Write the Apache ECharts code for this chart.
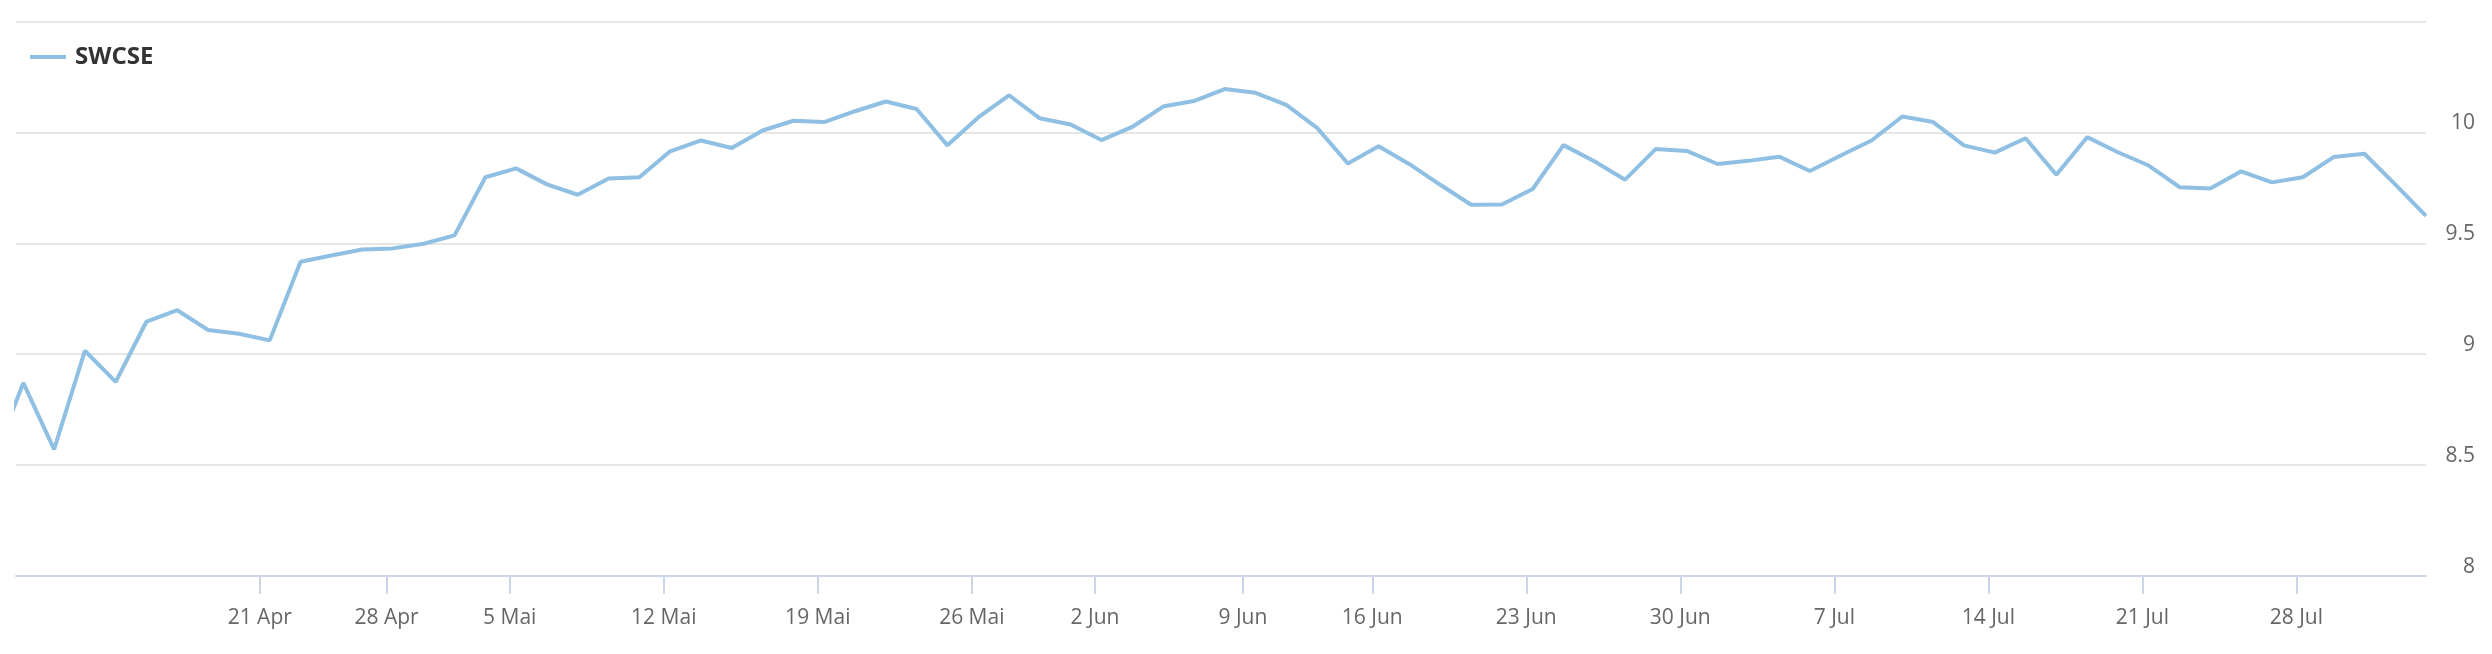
<!DOCTYPE html>
<html>
<head>
<meta charset="utf-8">
<script src="https://cdn.jsdelivr.net/npm/echarts@6/dist/echarts.min.js"></script>
<style>
html,body{margin:0;padding:0;background:#ffffff;}
#chart{width:2492px;height:654px;}
</style>
</head>
<body>
<div id="chart"></div>
<script>
// Trading days (SIX calendar) shown in the chart
const dates = [
  '2025-04-07','2025-04-08','2025-04-09','2025-04-10','2025-04-11',
  '2025-04-14','2025-04-15','2025-04-16','2025-04-17',
  '2025-04-22','2025-04-23','2025-04-24','2025-04-25',
  '2025-04-28','2025-04-29','2025-04-30','2025-05-02',
  '2025-05-05','2025-05-06','2025-05-07','2025-05-08','2025-05-09',
  '2025-05-12','2025-05-13','2025-05-14','2025-05-15','2025-05-16',
  '2025-05-19','2025-05-20','2025-05-21','2025-05-22','2025-05-23',
  '2025-05-26','2025-05-27','2025-05-28','2025-05-30',
  '2025-06-02','2025-06-03','2025-06-04','2025-06-05','2025-06-06',
  '2025-06-10','2025-06-11','2025-06-12','2025-06-13',
  '2025-06-16','2025-06-17','2025-06-18','2025-06-19','2025-06-20',
  '2025-06-23','2025-06-24','2025-06-25','2025-06-26','2025-06-27',
  '2025-06-30','2025-07-01','2025-07-02','2025-07-03','2025-07-04',
  '2025-07-07','2025-07-08','2025-07-09','2025-07-10','2025-07-11',
  '2025-07-14','2025-07-15','2025-07-16','2025-07-17','2025-07-18',
  '2025-07-21','2025-07-22','2025-07-23','2025-07-24','2025-07-25',
  '2025-07-28','2025-07-29','2025-07-30','2025-07-31','2025-08-01'
];

const swcse = [
  8.51, 8.87, 8.57, 9.015, 8.875, 9.147, 9.198, 9.109, 9.092, 9.062,
  9.417, 9.445, 9.472, 9.477, 9.498, 9.536, 9.798, 9.838, 9.766, 9.719,
  9.792, 9.798, 9.915, 9.964, 9.930, 10.009, 10.053, 10.047, 10.096, 10.140,
  10.106, 9.942, 10.068, 10.168, 10.064, 10.036, 9.966, 10.025, 10.117, 10.142,
  10.196, 10.179, 10.125, 10.021, 9.860, 9.938, 9.857, 9.764, 9.674, 9.675,
  9.745, 9.943, 9.870, 9.787, 9.926, 9.917, 9.858, 9.872, 9.891, 9.826,
  9.896, 9.964, 10.072, 10.047, 9.942, 9.909, 9.974, 9.809, 9.979, 9.911,
  9.851, 9.753, 9.747, 9.825, 9.775, 9.798, 9.889, 9.904, 9.766, 9.624
];

const tickDates = [
  '2025-04-21','2025-04-28','2025-05-05','2025-05-12','2025-05-19','2025-05-26',
  '2025-06-02','2025-06-09','2025-06-16','2025-06-23','2025-06-30',
  '2025-07-07','2025-07-14','2025-07-21','2025-07-28'
];
const tickLabels = [
  '21 Apr','28 Apr','5 Mai','12 Mai','19 Mai','26 Mai',
  '2 Jun','9 Jun','16 Jun','23 Jun','30 Jun',
  '7 Jul','14 Jul','21 Jul','28 Jul'
];

const yTicks = ['8', '8.5', '9', '9.5', '10'];

// hour of day at which each data point is stamped
const pointHour = 15;

// ordinal axis: each trading day is one unit; ticks interpolated in time
const H = 3600 * 1000;
const pointTimes = dates.map(d => Date.parse(d + 'T00:00:00Z') + pointHour * H);
function ordinalPos(t) {
  for (let i = 0; i < pointTimes.length - 1; i++) {
    if (t >= pointTimes[i] && t < pointTimes[i + 1]) {
      return i + (t - pointTimes[i]) / (pointTimes[i + 1] - pointTimes[i]);
    }
  }
  return null;
}
const tickPos = tickDates.map(d => ordinalPos(Date.parse(d + 'T00:00:00Z')));
const seriesData = swcse.map((v, i) => [i, v]);

const chart = echarts.init(document.getElementById('chart'), null, { renderer: 'canvas' });
const font = '"Open Sans", "DejaVu Sans", sans-serif';

chart.setOption({
  animation: false,
  backgroundColor: '#ffffff',
  grid: { left: 16, right: 66, top: 21.7, bottom: 78.3, containLabel: false },
  legend: {
    show: true,
    left: 30,
    top: 45,
    padding: 0,
    icon: 'rect',
    itemWidth: 36,
    itemHeight: 4,
    itemStyle: { borderWidth: 0 },
    data: ['SWCSE'],
    textStyle: {
      fontFamily: font,
      fontSize: 24,
      fontWeight: 'bold',
      color: '#333333',
      padding: [0, 0, 0, 4]
    }
  },
  xAxis: {
    type: 'value',
    min: 0.763,
    max: swcse.length - 1,
    splitLine: { show: false },
    axisLine: { show: true, lineStyle: { color: '#ccd6eb', width: 2 } },
    axisTick: {
      show: true,
      customValues: tickPos,
      length: 18,
      lineStyle: { color: '#ccd6eb', width: 2 }
    },
    axisLabel: {
      show: true,
      customValues: tickPos,
      margin: 30,
      fontFamily: font,
      fontSize: 21,
      lineHeight: 24,
      color: '#666666',
      formatter: function (v) {
        for (let i = 0; i < tickPos.length; i++) {
          if (Math.abs(tickPos[i] - v) < 1e-6) return tickLabels[i];
        }
        return '';
      }
    }
  },
  yAxis: {
    type: 'value',
    position: 'right',
    min: 8,
    max: 10.5,
    interval: 0.5,
    axisLine: { show: false },
    axisTick: { show: false },
    splitLine: { show: true, lineStyle: { color: '#e6e6e6', width: 2 } },
    axisLabel: {
      show: true,
      showMaxLabel: false,
      align: 'right',
      verticalAlign: 'bottom',
      margin: 49,
      fontFamily: font,
      fontSize: 21,
      lineHeight: 18,
      color: '#666666',
      formatter: function (v) {
        const s = String(Math.round(v * 10) / 10);
        return yTicks.indexOf(s) >= 0 ? s : '';
      }
    }
  },
  series: [{
    name: 'SWCSE',
    type: 'line',
    data: seriesData,
    showSymbol: false,
    symbol: 'none',
    clip: true,
    lineStyle: { color: '#8fbfe2', width: 4 },
    itemStyle: { color: '#8fbfe2' }
  }]
});
</script>
</body>
</html>
